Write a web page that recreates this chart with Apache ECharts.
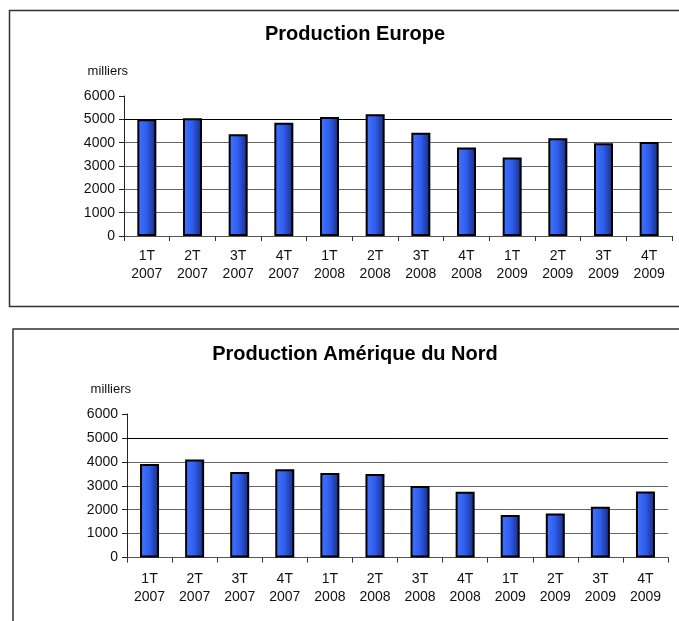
<!DOCTYPE html>
<html>
<head>
<meta charset="utf-8">
<script src="https://cdn.jsdelivr.net/npm/echarts@6/dist/echarts.min.js"></script>
<style>
  html, body { margin: 0; padding: 0; background: #fff; }
  #chart { width: 679px; height: 621px; }
</style>
</head>
<body>
<div id="chart"></div>
<script>
// trimestres
var quarters = ['1T\n2007', '2T\n2007', '3T\n2007', '4T\n2007',
  '1T\n2008', '2T\n2008', '3T\n2008', '4T\n2008',
  '1T\n2009', '2T\n2009', '3T\n2009', '4T\n2009'];

// production en milliers
var europe = [5000, 5050, 4360, 4850, 5100, 5220, 4420, 3790, 3360, 4190, 3970, 4030];
var northAmerica = [3910, 4100, 3580, 3690, 3530, 3490, 2990, 2750, 1780, 1840, 2120, 2760];

var titles = ['Production Europe', 'Production Amérique du Nord'];
var unitLabel = 'milliers';
var refLine = 5000; // ligne plus foncée

var font = 'Liberation Sans, Arial, sans-serif';

var barColor = new echarts.graphic.LinearGradient(0, 0, 1, 0, [
  { offset: 0, color: '#4277ff' },
  { offset: 0.5, color: '#2f5cec' },
  { offset: 1, color: '#172a78' }
]);

function xAxisFor(gridIndex, margin) {
  return {
    type: 'category',
    gridIndex: gridIndex,
    data: quarters,
    axisLine: { lineStyle: { color: '#555', width: 1 } },
    axisTick: { show: true, length: 5, lineStyle: { color: '#333' } },
    axisLabel: {
      interval: 0,
      color: '#111',
      fontFamily: font,
      fontSize: 14,
      lineHeight: 18,
      margin: margin
    },
    splitLine: { show: false }
  };
}

function yAxisFor(gridIndex) {
  return {
    type: 'value',
    gridIndex: gridIndex,
    min: 0,
    max: 6000,
    interval: 1000,
    name: unitLabel,
    nameLocation: 'end',
    nameGap: 18,
    nameTextStyle: {
      color: '#111',
      fontFamily: font,
      fontSize: 13,
      align: 'right',
      padding: [0, -4, 0, 0]
    },
    axisLine: { show: true, lineStyle: { color: '#222', width: 1 } },
    axisTick: { show: true, length: 5, lineStyle: { color: '#222' } },
    axisLabel: {
      color: '#111',
      fontFamily: font,
      fontSize: 14,
      margin: 9,
      formatter: function (v) { return String(v); }
    },
    splitLine: {
      show: true,
      showMinLine: false,
      showMaxLine: false,
      lineStyle: { color: '#666', width: 1 }
    }
  };
}

function barSeries(index, values) {
  return {
    type: 'bar',
    xAxisIndex: index,
    yAxisIndex: index,
    data: values,
    barWidth: 19,
    itemStyle: {
      color: barColor,
      borderColor: '#000',
      borderWidth: 2
    },
    markLine: {
      silent: true,
      symbol: 'none',
      label: { show: false },
      lineStyle: { color: '#000', type: 'solid', width: 1 },
      data: [{ yAxis: refLine }],
      z: 1
    },
    silent: true,
    animation: false
  };
}

var chart = echarts.init(document.getElementById('chart'), null, { renderer: 'canvas' });

chart.setOption({
  backgroundColor: '#fff',
  animation: false,
  title: [
    {
      text: titles[0],
      left: 350,
      top: 19,
      textAlign: 'center',
      textStyle: { fontFamily: font, fontSize: 20, fontWeight: 'bold', color: '#000' }
    },
    {
      text: titles[1],
      left: 350,
      top: 339,
      textAlign: 'center',
      textStyle: { fontFamily: font, fontSize: 20, fontWeight: 'bold', color: '#000' }
    }
  ],
  // cadres des deux graphiques (débordent à droite / en bas)
  graphic: [
    {
      type: 'rect',
      shape: { x: 9.5, y: 10.5, width: 720, height: 296 },
      style: { fill: 'none', stroke: '#333', lineWidth: 1.5 },
      z: -1
    },
    {
      type: 'rect',
      shape: { x: 13, y: 329, width: 720, height: 320 },
      style: { fill: 'none', stroke: '#333', lineWidth: 1.5 },
      z: -1
    }
  ],
  grid: [
    { left: 124, right: 7, top: 96, height: 140, containLabel: false },
    { left: 127, right: 11, top: 414, height: 143.5, containLabel: false }
  ],
  xAxis: [xAxisFor(0, 11), xAxisFor(1, 13)],
  yAxis: [yAxisFor(0), yAxisFor(1)],
  series: [barSeries(0, europe), barSeries(1, northAmerica)]
});
</script>
</body>
</html>
